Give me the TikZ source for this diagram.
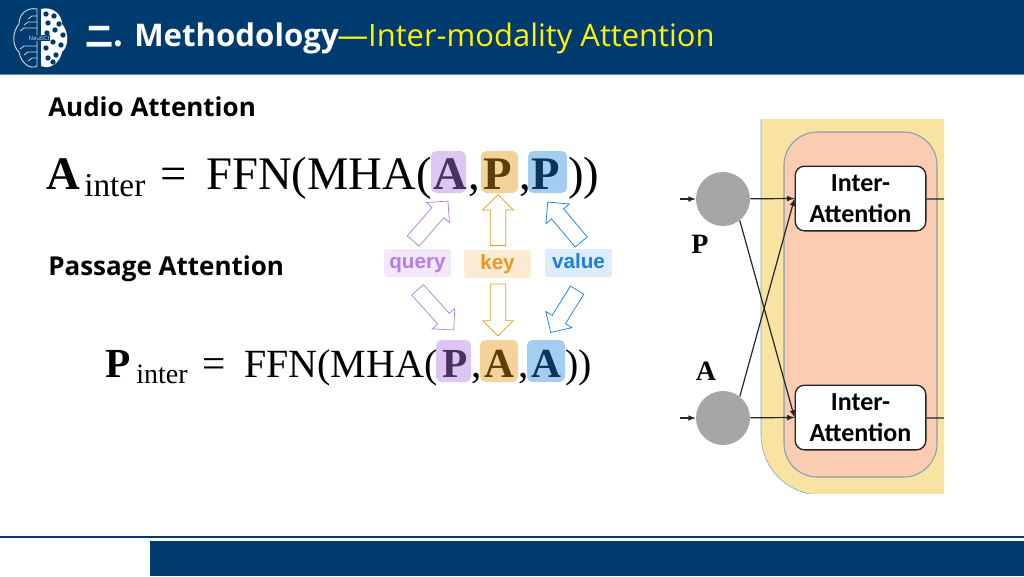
\documentclass[tikz,border=0pt]{standalone}
\usepackage{fontspec}
\usepackage{xcolor}
\usetikzlibrary{shapes.arrows}
\setmainfont{Liberation Serif}
\newfontfamily\headfont{Open Sans}
\newfontfamily\cjk{Noto Sans CJK SC}
\newfontfamily\tagfont{Liberation Sans}
\newfontfamily\boxfont{Carlito}

\definecolor{barblue}{HTML}{003B70}
\definecolor{panelyellow}{HTML}{F8E3A3}
\definecolor{panelred}{HTML}{FBCBB2}
\definecolor{panelline}{HTML}{7FA3B0}
\definecolor{querycol}{HTML}{B47FE6}
\definecolor{keycol}{HTML}{E79A1F}
\definecolor{valuecol}{HTML}{1E7FDB}

\tikzset{
	heading/.style={anchor=base west,inner sep=0pt,font=\headfont\bfseries\fontsize{19.5}{22}\selectfont},
	formula/.style={anchor=base west,inner sep=0pt,font=\fontsize{#1}{#1}\selectfont},
	blockarrow/.style={single arrow,draw,fill=white,line width=0.55pt,inner xsep=0pt,inner ysep=5.6pt,single arrow head extend=5.6pt,outer sep=0pt},
	tagbox/.style={anchor=center,rounded corners=2pt,inner sep=0pt,minimum width=50pt,minimum height=21pt,text height=11.5pt,text depth=3pt,font=\tagfont\bfseries\fontsize{15.5}{16}\selectfont},
	interbox/.style={draw=black!85,fill=white,line width=1pt,rounded corners=7pt,minimum width=98pt,minimum height=48.5pt,inner sep=0pt,align=center,font=\boxfont\bfseries\fontsize{19.5}{23}\selectfont},
	inputdot/.style={circle,fill=black!35,minimum size=40.5pt,inner sep=0pt},
	inputname/.style={inner sep=0pt,font=\bfseries\fontsize{21}{21}\selectfont},
	link/.style={line width=0.9pt,black!85},
}

\begin{document}
\begin{tikzpicture}[x=0.75pt,y=-0.75pt]
	\useasboundingbox (0,0) rectangle (1024,576);

	% top and bottom bars
	\fill[barblue] (0,0) rectangle (1024,74);
	\fill[barblue!60] (0,74) rectangle (1024,75);
	\fill[barblue] (0,536) rectangle (1024,537.5);
	\fill[barblue] (150,541) rectangle (1024,576);

	% logo
	\fill[white] (41,9) .. controls (52,6) and (62,14) .. (62,24) .. controls (69,32) and (69,46) .. (62,52) .. controls (60,63) and (50,70) .. (41,66) -- cycle;
	\foreach \x/\y in {46/14,54/16,59/24,48/23,55/30,63/35,47/33,53/42,61/45,46/48,56/55,48/58,53/62}{
		\fill[barblue] (\x,\y) circle (2.7);
	}
	\draw[white!80!barblue,line width=0.7pt] (37,9) .. controls (27,7) and (19,14) .. (19,24) .. controls (12,32) and (12,46) .. (19,52) .. controls (21,63) and (30,70) .. (37,66) -- cycle;
	\foreach \y/\d in {16/5,22/9,28/13,46/13,52/9,58/5}{
		\draw[white!80!barblue,line width=0.6pt] (37,\y) -- ({37-\d},\y) -- ({33-\d},{\y+3});
	}
	\node[inner sep=0.5pt,fill=barblue,text=white!80!barblue,font=\headfont\fontsize{4.5}{5}\selectfont] (logoname) at (39,38) {NeuBCI};

	% title
	\node[heading,text=white,font=\cjk\bfseries\fontsize{21}{22}\selectfont] (titlenum) at (85,46) {二.};
	\node[heading,text=white,font=\headfont\bfseries\fontsize{23.4}{24}\selectfont] (titlemain) at (134,46) {Methodology};
	\node[heading,text=yellow,font=\headfont\fontsize{23.2}{24}\selectfont] (titlesub) at (337,46) {—Inter-modality Attention};

	\node[heading,text=black] (audiohead) at (48,116) {Audio Attention};
	\node[heading,text=black] (passagehead) at (48,275) {Passage Attention};

	% colored letter backgrounds
	\fill[querycol!45,rounded corners=4pt] (431,151) rectangle (466,193);
	\fill[keycol!45,rounded corners=4pt] (481,151) rectangle (518,193);
	\fill[valuecol!40,rounded corners=4pt] (528,151) rectangle (567,193);
	\fill[querycol!45,rounded corners=4pt] (436,340) rectangle (471,382);
	\fill[keycol!45,rounded corners=4pt] (480,340) rectangle (518,382);
	\fill[valuecol!40,rounded corners=4pt] (527,340) rectangle (565,382);

	% audio formula
	\node[formula=35] (audiosym) at (46,189) {\textbf{A}};
	\node[formula=25] (audiosub) at (84,196) {inter};
	\node[formula=35] (audiorhs) at (160,189) {=};
	\node[formula=35] (audiofun) at (206,189) {FFN(MHA(};
	\node[formula=35,text=querycol!40!black] (audioq) at (433,189) {\textbf{A}};
	\node[formula=35] (audioca) at (468,189) {,};
	\node[formula=35,text=keycol!40!black] (audiok) at (483,189) {\textbf{P}};
	\node[formula=35] (audiocb) at (519,189) {,};
	\node[formula=35,text=valuecol!40!black] (audiov) at (531,189) {\textbf{P}};
	\node[formula=35] (audioend) at (568,189) {))};

	% passage formula
	\node[formula=31] (passym) at (105,377) {\textbf{P}};
	\node[formula=21] (passub) at (136,383) {inter};
	\node[formula=31] (pasrhs) at (202,377) {=};
	\node[formula=30] (pasfun) at (244,377) {FFN(MHA(};
	\node[formula=31,text=querycol!40!black] (pasq) at (442,377) {\textbf{P}};
	\node[formula=31] (pasca) at (471,377) {,};
	\node[formula=31,text=keycol!40!black] (pask) at (484,377) {\textbf{A}};
	\node[formula=31] (pascb) at (518,377) {,};
	\node[formula=31,text=valuecol!40!black] (pasv) at (531,377) {\textbf{A}};
	\node[formula=30] (pasend) at (565,377) {))};

	% block arrows
	\foreach \n/\x/\y/\r/\l/\c in {qa/428/224/49/53/querycol,ka/498/224/90/51/keycol,va/567/225/130/52/valuecol,qb/433/307/-48/54/querycol,kb/498/306/-90/52/keycol,vb/566/308/-122/50/valuecol}{
		\node[blockarrow,draw=\c,minimum height=\l*0.75pt,rotate=\r] (\n) at (\x,\y) {};
	}

	% tags
	\node[tagbox,fill=querycol!18,text=querycol] (query) at (417.5,263) {query};
	\node[tagbox,fill=keycol!20,text=keycol] (key) at (497.5,264) {key};
	\node[tagbox,fill=valuecol!15,text=valuecol] (value) at (578.5,263) {value};

	% panel, cut at its right edge
	\begin{scope}
		\clip (680,119) rectangle (944,493);
		\draw[panelline,fill=panelyellow,rounded corners=45pt] (761,60) rectangle (1100,495);
		\draw[panelline,fill=panelred,line width=0.8pt,rounded corners=25pt] (784,132) rectangle (937,477);
	\end{scope}

	\node[interbox] (upper) at (860.5,198.5) {Inter-\\Attention};
	\node[interbox] (lower) at (860.5,417.5) {Inter-\\Attention};
	\node[inputdot] (pdot) at (723,199) {};
	\node[inputdot] (adot) at (723,418) {};
	\node[inputname] (pname) at (700,244) {P};
	\node[inputname] (aname) at (706,371) {A};

	\coordinate (pin) at (680,199);
	\coordinate (ain) at (680,418);
	\coordinate (upperout) at (944,199);
	\coordinate (lowerout) at (944,418);

	\draw[link,-latex] (pin) -- (pdot);
	\draw[link,-latex] (ain) -- (adot);
	\draw[link,-latex] (pdot) -- (upper.west);
	\draw[link,-latex] (adot) -- (lower.west);
	\draw[link,-latex] (pdot.-52) -- (lower.west);
	\draw[link,-latex] (adot.52) -- (upper.west);
	\draw[link] (upper) -- (upperout);
	\draw[link] (lower) -- (lowerout);
\end{tikzpicture}
\end{document}
